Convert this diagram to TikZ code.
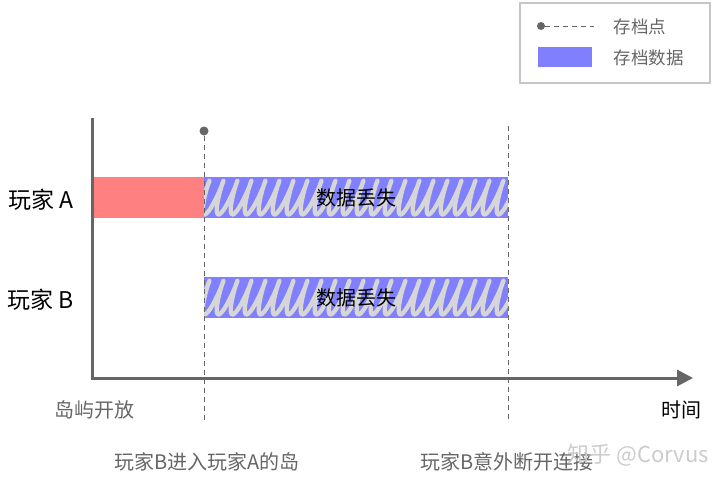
\documentclass[tikz,border=0pt]{standalone}
\usepackage{fontspec}
\setmainfont{Noto Sans CJK SC}
\usetikzlibrary{arrows.meta}
\definecolor{axisgray}{HTML}{666666}
\definecolor{txtgray}{HTML}{666666}
\definecolor{redfill}{HTML}{FF8080}
\definecolor{bluefill}{HTML}{8080FF}
\definecolor{coilgray}{HTML}{D6D6D6}
\definecolor{wmgray}{HTML}{CCCCCC}
\begin{document}
\begin{tikzpicture}[x=1pt,y=-1pt,
  axisline/.style={draw=axisgray,line width=3pt},
  guide/.style={draw=axisgray,line width=0.8pt,dash pattern=on 5pt off 4pt},
  redbar/.style={fill=redfill,draw=none,minimum width=112pt,minimum height=41pt,anchor=north west,inner sep=0pt},
  bluebar/.style={fill=bluefill,draw=none,minimum width=304pt,minimum height=41pt,anchor=north west,inner sep=0pt},
  scribble/.style={draw=coilgray,line width=4.3pt,line join=round},
  playerlbl/.style={font=\fontsize{23}{26}\selectfont,text=black},
  losslbl/.style={font=\fontsize{20}{23}\selectfont,text=black},
  eventlbl/.style={font=\fontsize{20}{23}\selectfont,text=txtgray},
  leglbl/.style={font=\fontsize{17.5}{20}\selectfont,text=txtgray,anchor=west},
  dotnode/.style={circle,fill=axisgray,draw=none,minimum size=9pt,inner sep=0pt}
]
\useasboundingbox (0,0) rectangle (720,482);

% legend
\node[draw=gray!45,line width=1.5pt,minimum width=190pt,minimum height=80pt,anchor=north west,inner sep=0pt] (leg) at (519,2) {};
\node[dotnode,minimum size=8pt] (ldot) at (541,26) {};
\coordinate (ldend) at (594,26);
\draw[guide] (ldot) -- (ldend);
\node[leglbl] (lt1) at (610,27) {存档点};
\node[fill=bluefill,minimum width=54pt,minimum height=20pt,inner sep=0pt,anchor=north west] (lbox) at (538,47) {};
\node[leglbl] (lt2) at (610,58) {存档数据};

% bars
\node[redbar] (ra) at (92,177) {};
\node[bluebar] (ba) at (204,177) {};
\node[bluebar] (bb) at (204,277) {};
\begin{scope}
  \clip (ba.north west) rectangle (ba.south east);
  \draw[scribble] plot[smooth,domain=-1:23,samples=720]
    ({200+14*\x+2.5*cos(360*\x)+6*sin(360*\x)},{197.5-17*sin(360*\x)});
\end{scope}
\begin{scope}
  \clip (bb.north west) rectangle (bb.south east);
  \draw[scribble] plot[smooth,domain=-1:23,samples=720]
    ({200+14*\x+2.5*cos(360*\x)+6*sin(360*\x)},{297.5-17*sin(360*\x)});
\end{scope}
\node[losslbl] (la) at (356,198) {数据丢失};
\node[losslbl] (lb) at (356,298) {数据丢失};

% guides
\node[dotnode] (dot1) at (204,131) {};
\coordinate (g1b) at (204,420);
\coordinate (g2t) at (508,126);
\coordinate (g2b) at (508,420);
\draw[guide] (dot1) -- (g1b);
\draw[guide] (g2t) -- (g2b);

% axes
\coordinate (ytop) at (92,118);
\coordinate (orig) at (92,378);
\coordinate (xend) at (693,378);
\draw[axisline,-{Triangle[length=16pt,width=16pt]}] (ytop) -- (orig) -- (xend);

% labels
\node[playerlbl] (pa) at (41,200) {玩家 A};
\node[playerlbl] (pb) at (41,300) {玩家 B};
\node[eventlbl] (e0) at (94,410) {岛屿开放};
\node[font=\fontsize{20}{23}\selectfont,text=black] (tm) at (681,410) {时间};
\node[eventlbl] (e1) at (207,462) {玩家B进入玩家A的岛};
\node[eventlbl] (e2) at (507,462) {玩家B意外断开连接};
\node[font=\fontsize{22}{25}\selectfont,text=wmgray] (wm) at (638,455) {知乎 @Corvus};
\end{tikzpicture}
\end{document}
